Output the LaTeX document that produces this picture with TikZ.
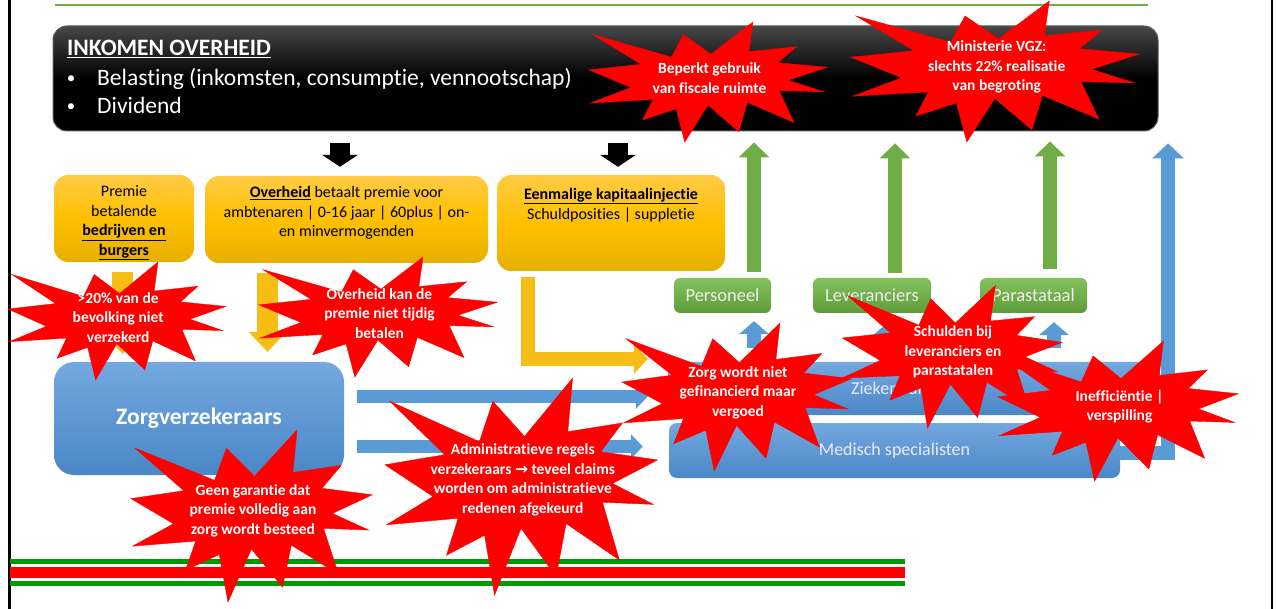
\documentclass[tikz,border=0pt]{standalone}
\usepackage{fontspec}
\setmainfont{Carlito}[Ligatures=NoCommon]
\newfontfamily\arrowfont{DejaVu Sans}
\usetikzlibrary{calc,arrows.meta}

\definecolor{gold}{HTML}{FFC000}
\definecolor{goldtop}{HTML}{FFCB45}
\definecolor{goldbot}{HTML}{E6B000}
\definecolor{goldarrow}{HTML}{F6BD14}
\definecolor{leaf}{HTML}{70AD47}
\definecolor{leaftop}{HTML}{84C15E}
\definecolor{leafbot}{HTML}{5E9C3A}
\definecolor{sky}{HTML}{5B9BD5}
\definecolor{skytop}{HTML}{74A8DF}
\definecolor{skybot}{HTML}{4A87C7}
\definecolor{stripegreen}{HTML}{009900}
\definecolor{rulegreen}{HTML}{70AD47}

% explosion: name, centre x, centre y, width, height, rotation, text
\newcommand{\boom}[7]{%
  \begin{scope}[shift={(#2,#3)}, rotate=#6, xscale=#4/100, yscale=#5/100]
    \fill[red, draw=red, line width=0.4pt] (0.6,-20.05) -- (17.83,-46.9) -- (16.13,-22.25) -- (35.69,-26.27)
      -- (27.92,-13.03) -- (48.27,-9.23) -- (32.11,1.6) -- (46.82,11.25) -- (28.55,10.24)
      -- (34.6,36.87) -- (15.51,20.03) -- (11.93,44.48) -- (-0.64,22.24) -- (-10.12,53.1)
      -- (-13.68,25.45) -- (-27.35,34.66) -- (-23.16,17.62) -- (-48.77,20.63) -- (-32.17,7.61)
      -- (-49.4,-7.02) -- (-27.98,-11.64) -- (-47.69,-36.27) -- (-15.55,-17.64) -- (-10.73,-36.27) -- cycle;
  \end{scope}
  \node[boomtext] (#1) at (#2,#3) {#7};}

\begin{document}
\begin{tikzpicture}[x=1pt, y=-1pt,
  incbox/.style={rounded corners=14pt, top color=black!72, bottom color=black, middle color=black, draw=black!65, line width=1pt, inner sep=0pt},
  inctext/.style={text=white, font=\fontsize{23.5}{28}\selectfont, inner sep=0pt},
  ybox/.style={rounded corners=14pt, top color=goldtop, bottom color=goldbot, middle color=gold, inner sep=0pt},
  ytext/.style={font=\fontsize{16}{19.5}\selectfont, align=center, inner sep=0pt},
  gbox/.style={rounded corners=6pt, top color=leaftop, bottom color=leafbot, text=white!93!black, font=\fontsize{18.5}{22}\selectfont, inner sep=0pt},
  bbox/.style={rounded corners=8pt, top color=skytop, bottom color=skybot, text=white!92!blue, font=\fontsize{18}{22}\selectfont, inner sep=0pt},
  boomtext/.style={text=white, font=\fontsize{15.5}{19.5}\selectfont\bfseries, align=center, inner sep=0pt},
  karrow/.style={black, line width=20pt, -{Triangle[width=36pt, length=12pt, line width=0pt]}},
  garrow/.style={leaf, line width=14pt, -{Triangle[width=31pt, length=15pt, line width=0pt]}},
  yarrow/.style={goldarrow, line width=21pt, -{Triangle[width=38pt, length=20pt, line width=0pt]}},
  larrow/.style={goldarrow, line width=14pt, -{Triangle[width=30pt, length=14pt, line width=0pt]}},
  barrow/.style={sky, line width=13pt, -{Triangle[width=25pt, length=12pt, line width=0pt]}},
  sbarrow/.style={sky, line width=14pt, -{Triangle[width=30pt, length=13pt, line width=0pt]}},
  bigarrow/.style={sky, line width=14pt, -{Triangle[width=32pt, length=15pt, line width=0pt]}},
]
  \useasboundingbox (0,0) rectangle (1277,609);

  \draw[line width=3pt] (9,0) -- (9,609);
  \draw[line width=2pt] (1272,0) -- (1272,609);
  \draw[rulegreen, line width=1.5pt] (55,5) -- (1148,5);

  \node[incbox, minimum width=1105pt, minimum height=105pt] (income) at (605.5,78.5) {};
  \node[inctext, font=\fontsize{23.5}{28}\selectfont\bfseries, anchor=base west] (inctit) at (67,55.5) {\underline{INKOMEN OVERHEID}};
  \node[inctext, font=\fontsize{17}{20}\selectfont, anchor=base] (dot1) at (71,84) {\textbullet};
  \node[inctext, anchor=base west] (bel) at (97,85.5) {Belasting (inkomsten, consumptie, vennootschap)};
  \node[inctext, font=\fontsize{17}{20}\selectfont, anchor=base] (dot2) at (71,112) {\textbullet};
  \node[inctext, anchor=base west] (div) at (97,113.5) {Dividend};

  \node[ybox, minimum width=140pt, minimum height=87pt] (prem) at (124,218.5) {};
  \node[ytext] (premt) at (124,223) {Premie\\betalende\\\underline{\textbf{bedrijven en}}\\\underline{\textbf{burgers}}};
  \node[ybox, minimum width=283pt, minimum height=87pt] (ovh) at (346.5,219.5) {};
  \node[ytext] (ovht) at (346.5,213) {\underline{\textbf{Overheid}} betaalt premie voor\\ambtenaren | 0-16 jaar | 60plus | on-\\en minvermogenden};
  \node[ybox, minimum width=228pt, minimum height=96pt] (kap) at (611,223) {};
  \node[ytext] (kapt) at (611,205) {\underline{\textbf{Eenmalige kapitaalinjectie}}\\Schuldposities | suppletie};

  \node[gbox, minimum width=97pt, minimum height=35pt] (pers) at (722.5,295.5) {Personeel};
  \node[gbox, minimum width=118pt, minimum height=35pt] (lev) at (872,295.5) {Leveranciers};
  \node[gbox, minimum width=107pt, minimum height=35pt] (para) at (1033.5,295.5) {Parastataal};

  \node[bbox, rounded corners=20pt, minimum width=290pt, minimum height=113pt, font=\fontsize{23.5}{28}\selectfont\bfseries, text=white] (zv) at (199,418.5) {Zorgverzekeraars};
  \node[bbox, minimum width=492pt, minimum height=53pt] (zh) at (914,388.5) {};
  \node[text=white!92!blue, font=\fontsize{18}{22}\selectfont, inner sep=0pt] (zht) at (899,388.5) {Ziekenhuizen};
  \node[bbox, minimum width=451pt, minimum height=55pt] (med) at (894.5,450.5) {Medisch specialisten};

  \draw[karrow] ($(income.south)+(-265.5,12)$) -- ($(ovh.north)+(-6.5,-9)$);
  \draw[karrow] ($(income.south)+(12.5,12)$) -- ($(kap.north)+(7,-8)$);

  \draw[yarrow] ($(prem.south)+(-1.5,10)$) -- ($(zv.north)+(-76.5,-8)$);
  \draw[yarrow] ($(ovh.south)+(-79,10)$) -- ($(zv.north)+(68.5,-10)$);
  \draw[larrow] ($(kap.south)+(-83.5,6)$) |- ($(zh.west)+(-20,-29.5)$);

  \draw[garrow] ($(pers.north)+(31.5,-6)$) -- ($(income.south)+(148.5,11)$);
  \draw[garrow] ($(lev.north)+(23,-5)$) -- ($(income.south)+(289.5,12)$);
  \draw[garrow] ($(para.north)+(16.5,-9)$) -- ($(income.south)+(444.5,10)$);

  \draw[sbarrow] ($(pers.south)+(31.5,35)$) -- ($(pers.south)+(31.5,8)$);
  \draw[sbarrow] ($(lev.south)+(15,35)$) -- ($(lev.south)+(15,10)$);
  \draw[sbarrow] ($(para.south)+(20.5,35)$) -- ($(para.south)+(20.5,9)$);

  \draw[barrow] ($(zv.east)+(13,-22)$) -- ($(zh.west)+(-20,8)$);
  \draw[barrow] ($(zv.east)+(13,28)$) -- ($(med.west)+(-26,-4)$);
  \draw[bigarrow] ($(med.east)+(0,2)$) -| ($(income.south)+(562.5,12)$);

  \draw[stripegreen, line width=5pt] (10,561.5) -- (905,561.5);
  \draw[red, line width=10.5pt] (10,572.5) -- (905,572.5);
  \draw[stripegreen, line width=5.5pt] (10,583.5) -- (905,583.5);

  \boom{fiscaal}{709.5}{78.3}{244}{120}{0}{Beperkt gebruik\\van fiscale ruimte}
  \boom{vgz}{996.7}{67.1}{295}{141}{0}{Ministerie VGZ:\\slechts 22\% realisatie\\van begroting}
  \boom{onverz}{118.2}{317.3}{223}{118}{0}{>20\% van de\\bevolking niet\\verzekerd}
  \boom{tijdig}{379.5}{313.3}{244}{120}{0}{Overheid kan de\\premie niet tijdig\\betalen}
  \boom{vergoed}{738}{392.4}{235}{148}{0}{Zorg wordt niet\\gefinancierd maar\\vergoed}
  \boom{schuld}{953}{352}{225}{145}{-2}{Schulden bij\\leveranciers en\\parastatalen}
  \boom{verspil}{1119.5}{406.7}{246}{140}{0}{Inefficiëntie |\\verspilling}
  \boom{admin}{522.8}{480}{279}{217}{0}{Administratieve regels\\verzekeraars {\arrowfont\bfseries →} teveel claims\\worden om administratieve\\redenen afgekeurd}
  \boom{garantie}{253}{510.7}{247}{172}{0}{Geen garantie dat\\premie volledig aan\\zorg wordt besteed}
\end{tikzpicture}
\end{document}
